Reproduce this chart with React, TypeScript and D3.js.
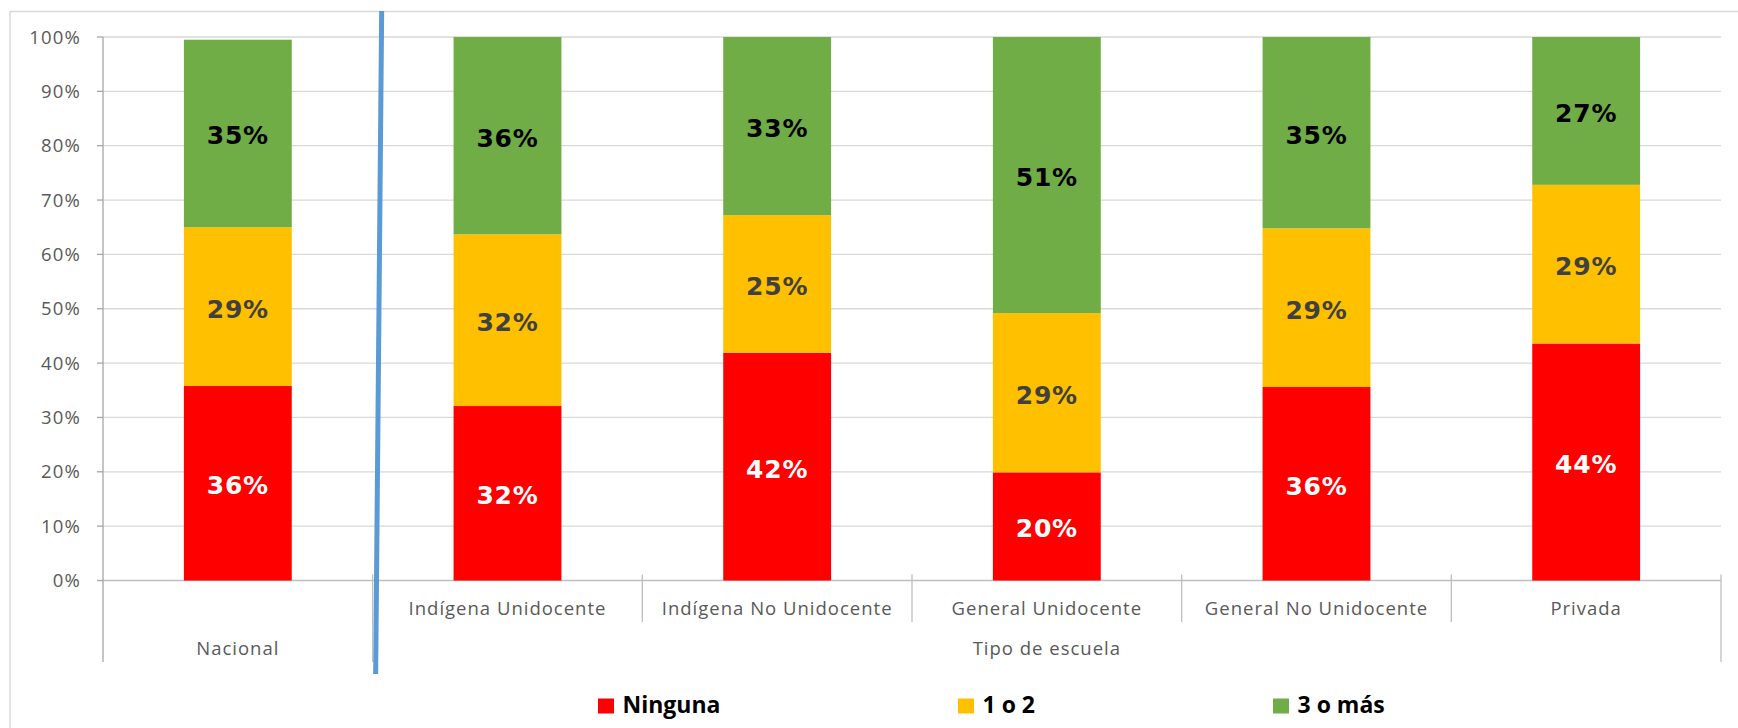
import React from 'react';
import * as d3 from 'd3';

// categories along the x axis, and the group each one belongs to
const categories = [
  'Nacional',
  'Indígena Unidocente',
  'Indígena No Unidocente',
  'General Unidocente',
  'General No Unidocente',
  'Privada',
];
const groups = [
  { label: 'Nacional', from: 0, to: 0 },
  { label: 'Tipo de escuela', from: 1, to: 5 },
];

// percentages
const ninguna = [35.8, 32.1, 41.9, 19.9, 35.6, 43.6];
const unoODos = [29.2, 31.6, 25.3, 29.3, 29.2, 29.2];
const tresOMas = [34.5, 36.3, 32.8, 50.8, 35.2, 27.2];

const seriesKeys = ['Ninguna', '1 o 2', '3 o más'];
const seriesColors = ['#FF0000', '#FFC000', '#70AD47'];
const labelColors = ['#FFFFFF', '#404040', '#000000'];

const yTicks = [0, 10, 20, 30, 40, 50, 60, 70, 80, 90, 100];

const W = 1738;
const H = 728;
const margin = { left: 103, right: 17, top: 37, bottom: 147.5 };

const App = () => {
  const rows = categories.map((c, i) => ({
    cat: c,
    'Ninguna': ninguna[i],
    '1 o 2': unoODos[i],
    '3 o más': tresOMas[i],
  }));
  const stacked = d3.stack<any>().keys(seriesKeys)(rows);

  const x = d3.scaleBand()
    .domain(categories)
    .range([margin.left, W - margin.right])
    .paddingInner(0)
    .paddingOuter(0);
  const y = d3.scaleLinear().domain([0, 100]).range([H - margin.bottom, margin.top]);

  const bw = x.bandwidth() * 0.4;
  const y0 = y(0);
  const x0 = margin.left;
  const x1 = W - margin.right;
  const axisFont = '"Open Sans", sans-serif';

  // blue separator between Nacional and the school types
  const sepX = x(categories[1]) as number;

  return (
    <svg width={W} height={H} style={{ position: 'absolute', left: 0, top: 0, background: '#fff' }}>
      <rect x={10} y={11.5} width={W + 20} height={H + 20} fill="#fff" stroke="#d9d9d9" strokeWidth={1.5} />

      {/* gridlines + y ticks */}
      {yTicks.map((t) => (
        <g key={t}>
          <line x1={x0} x2={x1} y1={y(t)} y2={y(t)} stroke={t === 0 ? '#bfbfbf' : '#d9d9d9'} strokeWidth={1.3} />
          <line x1={x0 - 6} x2={x0} y1={y(t)} y2={y(t)} stroke="#a6a6a6" strokeWidth={1.3} />
          <text
            x={81}
            y={y(t) + 6.5}
            textAnchor="end"
            fontFamily={axisFont}
            fontSize={18.5}
            letterSpacing={1.2}
            fill="#595959"
          >
            {t + '%'}
          </text>
        </g>
      ))}
      <line x1={x0} x2={x0} y1={y(100)} y2={662} stroke="#a6a6a6" strokeWidth={1.3} />

      {/* bars */}
      {stacked.map((s, si) => (
        <g key={s.key}>
          {s.map((d, i) => {
            const cx = (x(categories[i]) as number) + x.bandwidth() / 2;
            const top = y(d[1]);
            const bot = y(d[0]);
            const val = d[1] - d[0];
            return (
              <g key={i}>
                <rect x={cx - bw / 2} y={top} width={bw} height={bot - top} fill={seriesColors[si]} />
                <text
                  x={cx}
                  y={(top + bot) / 2 + 11}
                  textAnchor="middle"
                  fontFamily='"DejaVu Sans", Verdana, sans-serif'
                  fontWeight="bold"
                  fontSize={25}
                  letterSpacing={0.8}
                  fill={labelColors[si]}
                >
                  {Math.round(val) + '%'}
                </text>
              </g>
            );
          })}
        </g>
      ))}

      {/* category axis ticks */}
      {categories.map((c, i) => {
        const bx = x(c) as number;
        const isGroupEdge = groups.some((g) => g.from === i);
        return (
          <g key={c}>
            {i > 0 && (
              <line x1={bx} x2={bx} y1={y0 - 6} y2={isGroupEdge ? 662 : 622} stroke="#bfbfbf" strokeWidth={1.3} />
            )}
            {i > 0 && (
              <text
                x={bx + x.bandwidth() / 2}
                y={614.5}
                textAnchor="middle"
                fontFamily={axisFont}
                fontSize={18.5}
                letterSpacing={1}
                fill="#595959"
              >
                {c}
              </text>
            )}
          </g>
        );
      })}
      <line x1={x1} x2={x1} y1={y0 - 6} y2={662} stroke="#bfbfbf" strokeWidth={1.3} />

      {/* group labels */}
      {groups.map((g) => {
        const a = x(categories[g.from]) as number;
        const b = (x(categories[g.to]) as number) + x.bandwidth();
        return (
          <text
            key={g.label}
            x={(a + b) / 2}
            y={655}
            textAnchor="middle"
            fontFamily={axisFont}
            fontSize={18.5}
            letterSpacing={1}
            fill="#595959"
          >
            {g.label}
          </text>
        );
      })}

      {/* hand drawn separator */}
      <line x1={sepX + 9} y1={11} x2={sepX + 3} y2={674} stroke="#5B9BD5" strokeWidth={5} />

      {/* legend */}
      {seriesKeys.map((k, i) => {
        const lx = [598, 958, 1273][i];
        return (
          <g key={k}>
            <rect x={lx} y={698.5} width={16} height={15} fill={seriesColors[i]} />
            <text
              x={lx + 24.5}
              y={713.3}
              fontFamily={axisFont}
              fontWeight="bold"
              fontSize={23}
              fill="#000"
            >
              {k}
            </text>
          </g>
        );
      })}
    </svg>
  );
};

export default App;
